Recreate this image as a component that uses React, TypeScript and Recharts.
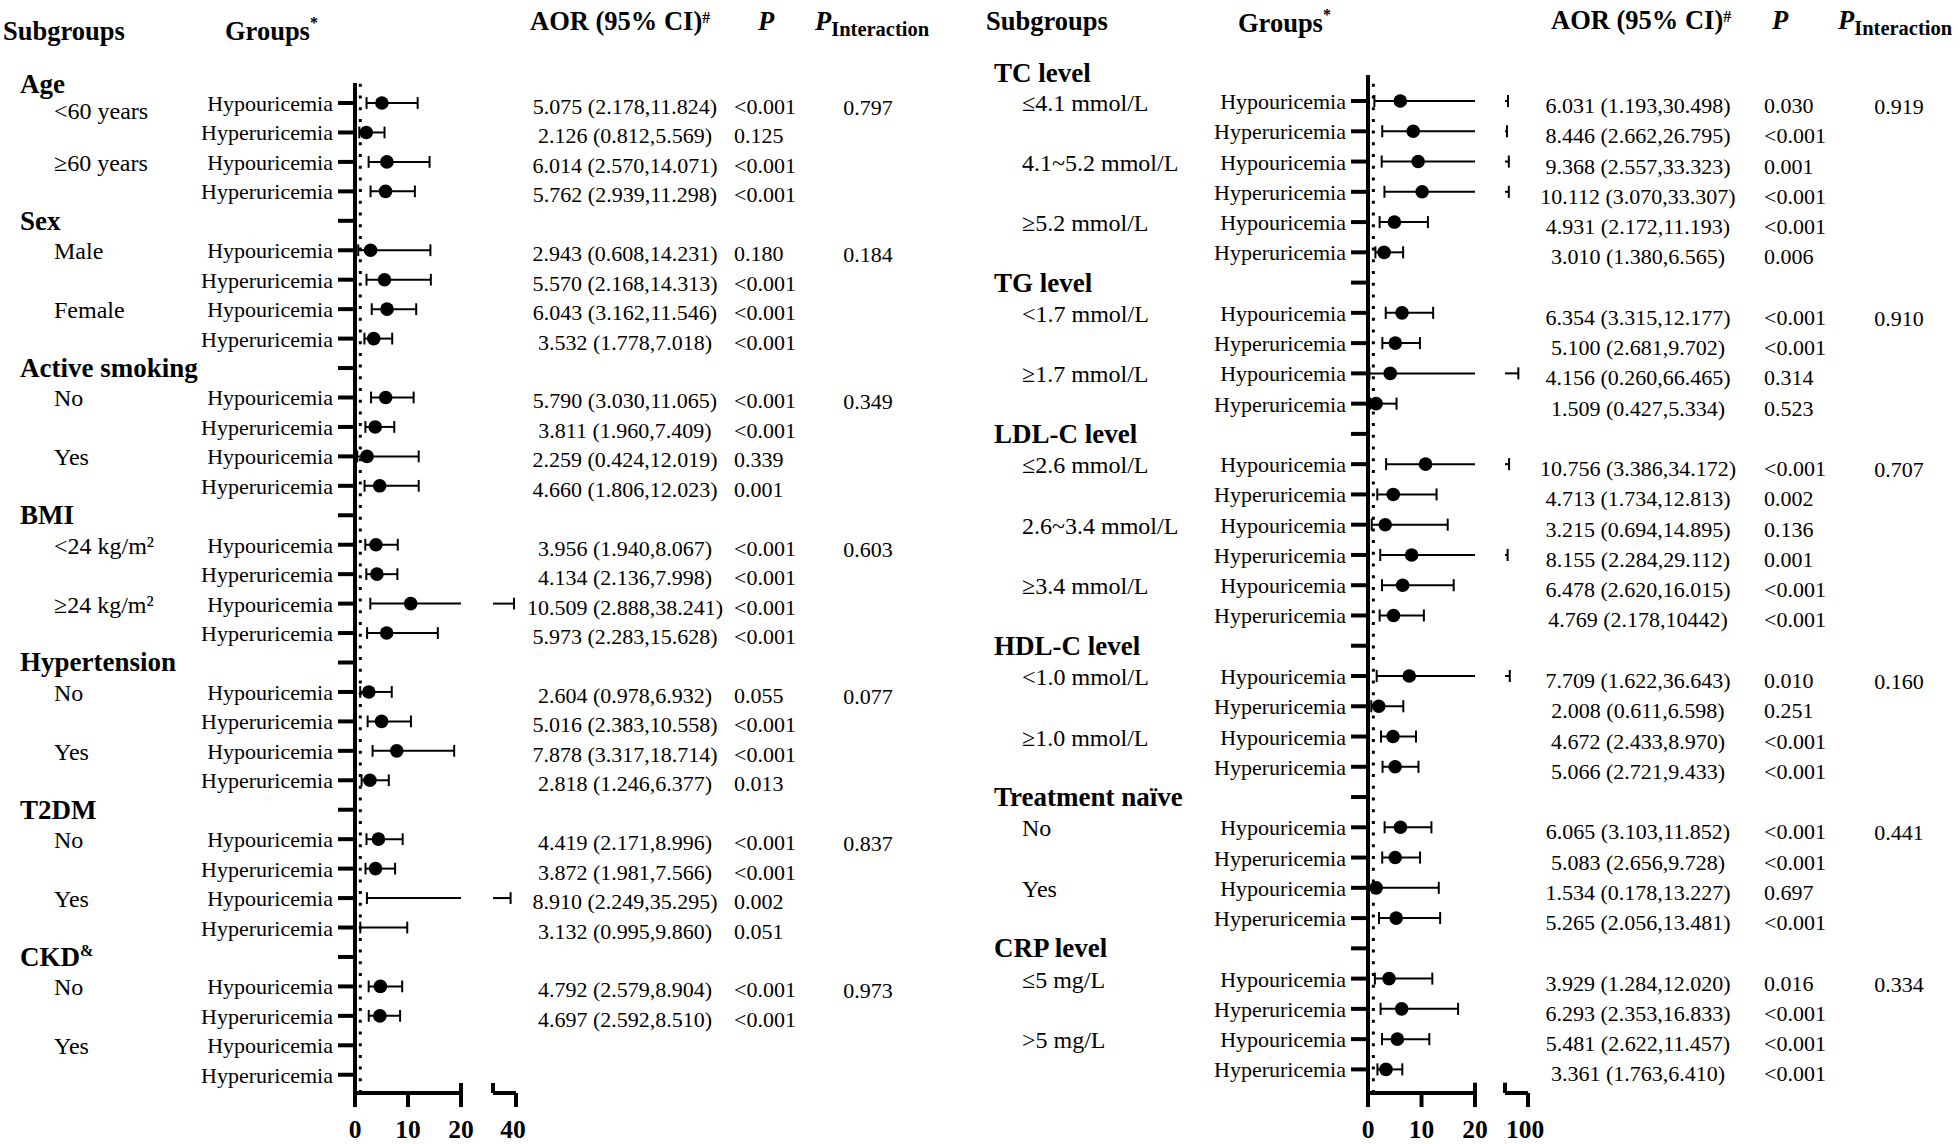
import React from "react";
import { ComposedChart, XAxis, YAxis, Scatter, ReferenceLine } from "recharts";

const serif = "'Liberation Serif', 'Times New Roman', Times, serif";

const groupNames = ["Hypouricemia", "Hyperuricemia"];

// ---- left panel data ----
const leftHeaders = ["Age", "Sex", "Active smoking", "BMI", "Hypertension", "T2DM", "CKD^&"];
const leftSubCounts = [2, 2, 2, 2, 2, 2, 2];
const leftSubgroups = [
  "<60 years", "≥60 years", "Male", "Female", "No", "Yes",
  "<24 kg/m²", "≥24 kg/m²", "No", "Yes", "No", "Yes", "No", "Yes",
];
const leftAor = [
  5.075, 2.126, 6.014, 5.762, 2.943, 5.57, 6.043, 3.532, 5.79, 3.811, 2.259, 4.66, 3.956, 4.134,
  10.509, 5.973, 2.604, 5.016, 7.878, 2.818, 4.419, 3.872, 8.91, 3.132, 4.792, 4.697, null, null,
];
const leftLower = [
  2.178, 0.812, 2.57, 2.939, 0.608, 2.168, 3.162, 1.778, 3.03, 1.96, 0.424, 1.806, 1.94, 2.136,
  2.888, 2.283, 0.978, 2.383, 3.317, 1.246, 2.171, 1.981, 2.249, 0.995, 2.579, 2.592, null, null,
];
const leftUpper = [
  11.824, 5.569, 14.071, 11.298, 14.231, 14.313, 11.546, 7.018, 11.065, 7.409, 12.019, 12.023, 8.067, 7.998,
  38.241, 15.628, 6.932, 10.558, 18.714, 6.377, 8.996, 7.566, 35.295, 9.86, 8.904, 8.51, null, null,
];
const leftP = [
  "<0.001", "0.125", "<0.001", "<0.001", "0.180", "<0.001", "<0.001", "<0.001", "<0.001", "<0.001",
  "0.339", "0.001", "<0.001", "<0.001", "<0.001", "<0.001", "0.055", "<0.001", "<0.001", "0.013",
  "<0.001", "<0.001", "0.002", "0.051", "<0.001", "<0.001", "", "",
];
const leftPInteraction = ["0.797", "0.184", "0.349", "0.603", "0.077", "0.837", "0.973"];
const leftNoMarker = [22, 23];
const leftAxisTicks = [0, 10, 20, 40];

// ---- right panel data ----
const rightHeaders = ["TC level", "TG level", "LDL-C level", "HDL-C level", "Treatment naïve", "CRP level"];
const rightSubCounts = [3, 2, 3, 2, 2, 2];
const rightSubgroups = [
  "≤4.1 mmol/L", "4.1~5.2 mmol/L", "≥5.2 mmol/L", "<1.7 mmol/L", "≥1.7 mmol/L",
  "≤2.6 mmol/L", "2.6~3.4 mmol/L", "≥3.4 mmol/L", "<1.0 mmol/L", "≥1.0 mmol/L",
  "No", "Yes", "≤5 mg/L", ">5 mg/L",
];
const rightAor = [
  6.031, 8.446, 9.368, 10.112, 4.931, 3.01, 6.354, 5.1, 4.156, 1.509, 10.756, 4.713, 3.215, 8.155,
  6.478, 4.769, 7.709, 2.008, 4.672, 5.066, 6.065, 5.083, 1.534, 5.265, 3.929, 6.293, 5.481, 3.361,
];
const rightLower = [
  1.193, 2.662, 2.557, 3.07, 2.172, 1.38, 3.315, 2.681, 0.26, 0.427, 3.386, 1.734, 0.694, 2.284,
  2.62, 2.178, 1.622, 0.611, 2.433, 2.721, 3.103, 2.656, 0.178, 2.056, 1.284, 2.353, 2.622, 1.763,
];
const rightUpper = [
  30.498, 26.795, 33.323, 33.307, 11.193, 6.565, 12.177, 9.702, 66.465, 5.334, 34.172, 12.813, 14.895, 29.112,
  16.015, 10.442, 36.643, 6.598, 8.97, 9.433, 11.852, 9.728, 13.227, 13.481, 12.02, 16.833, 11.457, 6.41,
];
const rightP = [
  "0.030", "<0.001", "0.001", "<0.001", "<0.001", "0.006", "<0.001", "<0.001", "0.314", "0.523",
  "<0.001", "0.002", "0.136", "0.001", "<0.001", "<0.001", "0.010", "0.251", "<0.001", "<0.001",
  "<0.001", "<0.001", "0.697", "<0.001", "0.016", "<0.001", "<0.001", "<0.001",
];
const rightPInteraction = ["0.919", "0.910", "0.707", "0.160", "0.441", "0.334"];
// the published table has a typo in this one interval
const rightCiText: Record<number, string> = { 15: "4.769 (2.178,10442)" };
const rightNoMarker: number[] = [];
const rightAxisTicks = [0, 10, 20, 100];

type Row = {
  kind: "header" | "data";
  label?: string;
  k?: number;
  sub?: string;
  group?: string;
  pInt?: string;
  firstHeader?: string;
};

function buildRows(headers: string[], subCounts: number[], subgroups: string[], pInt: string[]) {
  const rows: Row[] = [];
  let s = 0;
  let k = 0;
  headers.forEach((h, hi) => {
    if (hi > 0) rows.push({ kind: "header", label: h });
    for (let j = 0; j < subCounts[hi]; j++, s++) {
      for (let g = 0; g < 2; g++, k++) {
        rows.push({
          kind: "data",
          k,
          group: groupNames[g],
          sub: g === 0 ? subgroups[s] : undefined,
          pInt: j === 0 && g === 0 ? pInt[hi] : undefined,
          firstHeader: hi === 0 && j === 0 && g === 0 ? h : undefined,
        });
      }
    }
  });
  return rows;
}

function Label(props: any) {
  const { x, y, text, size, weight, anchor, supDy } = props;
  const [main, sup] = text.split("^");
  return (
    <text x={x} y={y} fontSize={size} fontWeight={weight || "normal"} fontFamily={serif} textAnchor={anchor || "start"} fill="#000">
      {main}
      {sup && (
        <tspan dy={supDy ?? -size * 0.45} fontSize={size * 0.6}>
          {sup}
        </tspan>
      )}
    </text>
  );
}

const leftCfg = {
  offsetX: 0,
  axisX: 355,
  plotW: 161,
  top: 83,
  yDomain: [-0.68, 33.62],
  brk: { cut: 20, gapStart: 26.04, end: 30.38, max: 40 },
  ticks: leftAxisTicks,
  rows: buildRows(leftHeaders, leftSubCounts, leftSubgroups, leftPInteraction),
  aor: leftAor,
  lower: leftLower,
  upper: leftUpper,
  p: leftP,
  ciText: {} as Record<number, string>,
  noMarker: leftNoMarker,
  headerX: 20,
  subX: 54,
  groupEndX: 333,
  aorX: 625,
  pX: 734,
  pIntX: 868,
  textDy: 11,
  firstHeaderDy: -10,
  firstSubDy: 16,
};

const rightCfg = {
  offsetX: 980,
  axisX: 388,
  plotW: 160,
  top: 75,
  yDomain: [-0.86, 32.78],
  brk: { cut: 20, gapStart: 25.6, end: 29.9, max: 100 },
  ticks: rightAxisTicks,
  rows: buildRows(rightHeaders, rightSubCounts, rightSubgroups, rightPInteraction),
  aor: rightAor,
  lower: rightLower,
  upper: rightUpper,
  p: rightP,
  ciText: rightCiText,
  noMarker: rightNoMarker,
  headerX: 994,
  subX: 1022,
  groupEndX: 1346,
  aorX: 1638,
  pX: 1764,
  pIntX: 1899,
  textDy: 12,
  firstHeaderDy: -19,
  firstSubDy: 10,
};

type Cfg = typeof leftCfg;

function toAxis(v: number, b: Cfg["brk"]) {
  if (v <= b.cut) return v;
  return b.gapStart + ((v - b.cut) * (b.end - b.gapStart)) / (b.max - b.cut);
}

function ForestPanel({ cfg }: { cfg: Cfg }) {
  const b = cfg.brk;
  const rowTicks = cfg.rows.map((_, i) => i);
  const rowOfK: Record<number, number> = {};
  cfg.rows.forEach((r, i) => {
    if (r.kind === "data") rowOfK[r.k as number] = i;
  });
  const yMax = cfg.yDomain[1];
  const ox = cfg.offsetX;

  const points = cfg.aor
    .map((v, k) => ({ x: v, y: rowOfK[k], k }))
    .filter((d) => d.x !== null && !cfg.noMarker.includes(d.k));

  const segs: { a: number; b: number; y1: number; y2: number }[] = [];
  const capH = 0.2;
  cfg.aor.forEach((v, k) => {
    const lo = cfg.lower[k];
    const hi = cfg.upper[k];
    if (v === null || lo === null || hi === null) return;
    const r = rowOfK[k];
    segs.push({ a: lo, b: Math.min(hi, b.cut), y1: r, y2: r });
    segs.push({ a: lo, b: lo, y1: r - capH, y2: r + capH });
    if (hi <= b.cut) {
      segs.push({ a: hi, b: hi, y1: r - capH, y2: r + capH });
    } else {
      const t = toAxis(hi, b);
      segs.push({ a: b.gapStart, b: t, y1: r, y2: r });
      segs.push({ a: t, b: t, y1: r - capH, y2: r + capH });
    }
  });

  const rowTick = (props: any) => {
    const { y, payload } = props;
    const row = cfg.rows[payload.value];
    if (!row) return <g />;
    if (row.kind === "header") {
      return <Label x={cfg.headerX - ox} y={y + 9} text={row.label} size={27} weight="bold" supDy={-10} />;
    }
    const k = row.k as number;
    const v = cfg.aor[k];
    const lo = cfg.lower[k];
    const hi = cfg.upper[k];
    const ci =
      v === null || lo === null || hi === null
        ? ""
        : cfg.ciText[k] ?? `${v.toFixed(3)} (${lo.toFixed(3)},${hi.toFixed(3)})`;
    return (
      <g>
        {row.firstHeader && (
          <Label x={cfg.headerX - ox} y={y + cfg.firstHeaderDy} text={row.firstHeader} size={27} weight="bold" />
        )}
        {row.sub && (
          <Label x={cfg.subX - ox} y={y + (row.firstHeader ? cfg.firstSubDy : 9)} text={row.sub} size={24} />
        )}
        <Label x={cfg.groupEndX - ox} y={y + 8} text={row.group} size={22} anchor="end" />
        {ci && <Label x={cfg.aorX - ox} y={y + cfg.textDy} text={ci} size={22} anchor="middle" />}
        {cfg.p[k] && <Label x={cfg.pX - ox} y={y + cfg.textDy} text={cfg.p[k]} size={22} />}
        {row.pInt && <Label x={cfg.pIntX - ox} y={y + cfg.textDy + 1} text={row.pInt} size={22} anchor="middle" />}
      </g>
    );
  };

  const xTick = (props: any) => {
    const { x, y, payload } = props;
    const val = payload.value;
    const label = val > b.cut ? String(b.max) : String(val);
    return (
      <text x={x} y={y} dy={29} dx={val > b.cut ? -3 : 0} textAnchor="middle" fontSize={25.5} fontWeight="bold" fontFamily={serif} fill="#000">
        {label}
      </text>
    );
  };

  const black = "#000";

  return (
    <ComposedChart
      width={980}
      height={1144}
      margin={{ top: cfg.top, right: 980 - cfg.axisX - cfg.plotW, bottom: 0, left: 0 }}
    >
      <XAxis
        type="number"
        dataKey="x"
        domain={[0, b.end]}
        allowDataOverflow
        ticks={[0, 10, 20, b.end]}
        interval={0}
        axisLine={false}
        tickLine={{ stroke: black, strokeWidth: 4 }}
        tickSize={14}
        height={51}
        tick={xTick}
      />
      <YAxis
        type="number"
        dataKey="y"
        domain={cfg.yDomain}
        reversed
        allowDataOverflow
        ticks={rowTicks}
        interval={0}
        width={cfg.axisX}
        axisLine={{ stroke: black, strokeWidth: 4 }}
        tickLine={{ stroke: black, strokeWidth: 4 }}
        tickSize={17}
        tick={rowTick}
      />
      <ReferenceLine x={1} stroke={black} strokeWidth={3} strokeDasharray="3 8.7" />
      {/* broken x axis */}
      <ReferenceLine segment={[{ x: 0, y: yMax }, { x: b.cut, y: yMax }]} stroke={black} strokeWidth={4} ifOverflow="visible" />
      <ReferenceLine segment={[{ x: b.gapStart, y: yMax }, { x: b.end, y: yMax }]} stroke={black} strokeWidth={4} ifOverflow="visible" />
      <ReferenceLine segment={[{ x: b.cut, y: yMax - 0.34 }, { x: b.cut, y: yMax }]} stroke={black} strokeWidth={4} ifOverflow="visible" />
      <ReferenceLine segment={[{ x: b.gapStart, y: yMax - 0.34 }, { x: b.gapStart, y: yMax }]} stroke={black} strokeWidth={4} ifOverflow="visible" />
      {segs.map((s, i) => (
        <ReferenceLine
          key={i}
          segment={[{ x: s.a, y: s.y1 }, { x: s.b, y: s.y2 }]}
          stroke={black}
          strokeWidth={2}
          ifOverflow="visible"
        />
      ))}
      <Scatter
        data={points}
        isAnimationActive={false}
        shape={(p: any) => <circle cx={p.cx} cy={p.cy} r={6.8} fill={black} />}
      />
    </ComposedChart>
  );
}

function ColumnHeaders({ x, y }: { x: number[]; y: number[] }) {
  // x: subgroups, groups, aor, p, pInteraction
  return (
    <g>
      <Label x={x[0]} y={y[0]} text="Subgroups" size={26.5} weight="bold" />
      <Label x={x[1]} y={y[1]} text="Groups^*" size={26.5} weight="bold" supDy={-12} />
      <Label x={x[2]} y={y[2]} text="AOR (95% CI)^#" size={26.5} weight="bold" supDy={-7} />
      <text x={x[3]} y={y[2]} fontSize={26.5} fontWeight="bold" fontStyle="italic" fontFamily={serif}>
        P
      </text>
      <text x={x[4]} y={y[2]} fontSize={26.5} fontWeight="bold" fontFamily={serif}>
        <tspan fontStyle="italic">P</tspan>
        <tspan dy={6} fontSize={20.5}>
          Interaction
        </tspan>
      </text>
    </g>
  );
}

export default function App() {
  return (
    <div style={{ position: "absolute", left: 0, top: 0, width: 1960, height: 1144, background: "#fff" }}>
      <div style={{ position: "absolute", left: 0, top: 0 }}>
        <ForestPanel cfg={leftCfg} />
      </div>
      <div style={{ position: "absolute", left: 980, top: 0 }}>
        <ForestPanel cfg={rightCfg} />
      </div>
      <svg
        width={1960}
        height={1144}
        style={{ position: "absolute", left: 0, top: 0, pointerEvents: "none" }}
      >
        <ColumnHeaders x={[3, 225, 530, 758, 815]} y={[40, 40, 30]} />
        <ColumnHeaders x={[986, 1238, 1551, 1772, 1838]} y={[30, 32, 29]} />
      </svg>
    </div>
  );
}
